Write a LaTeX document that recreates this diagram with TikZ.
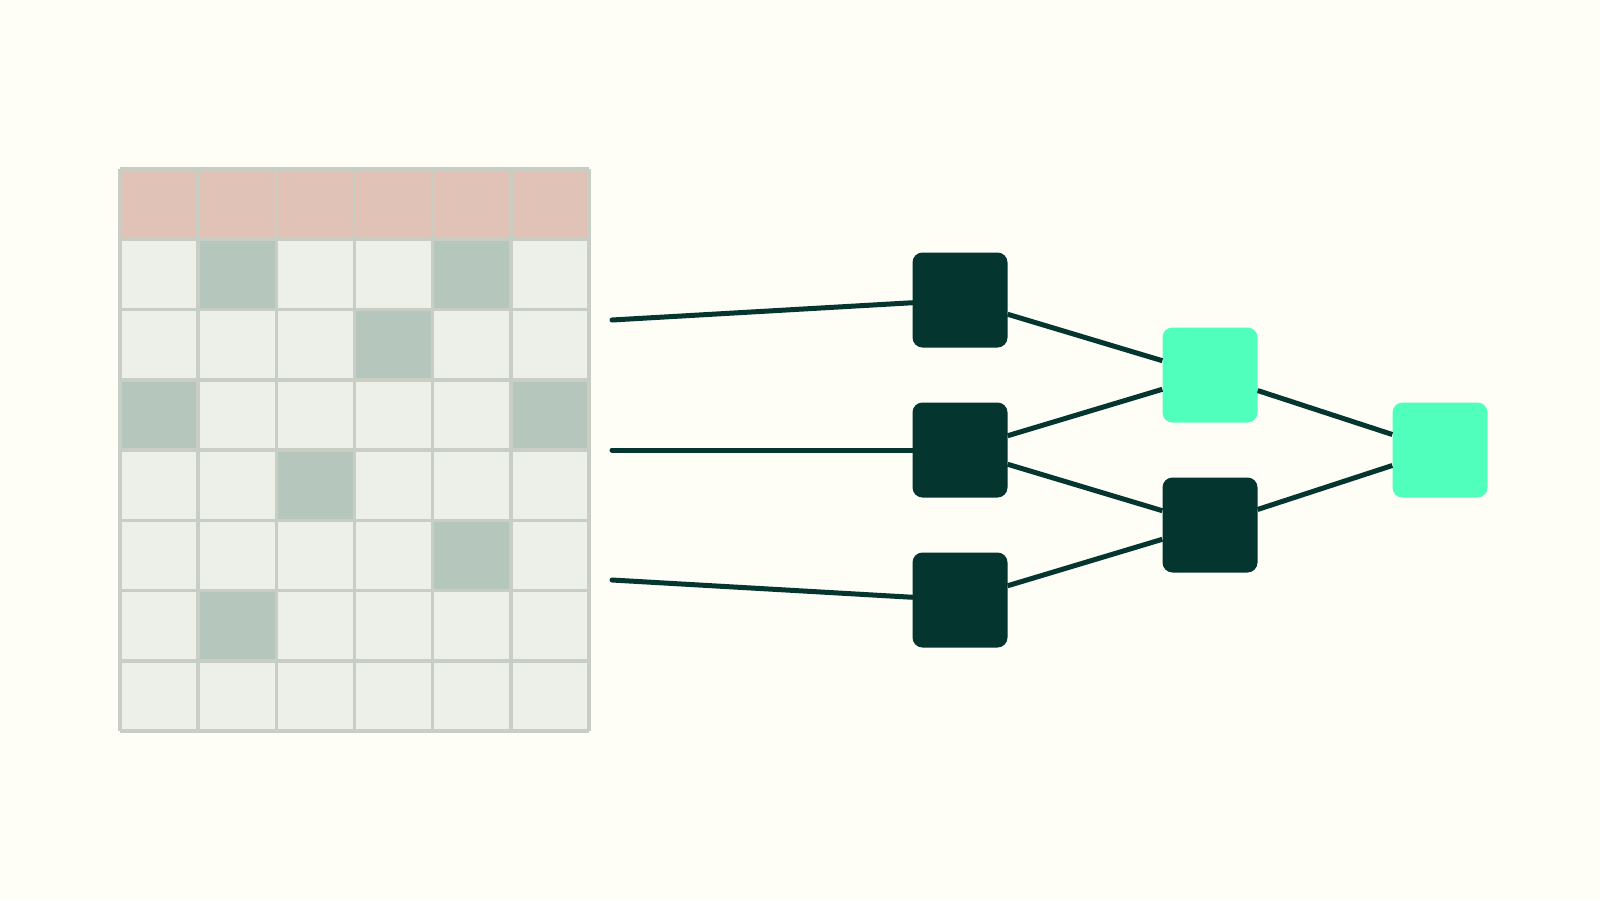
\documentclass[tikz,border=0pt]{standalone}
\definecolor{bg}{HTML}{FEFDF6}
\definecolor{hdr}{HTML}{E1C2B6}
\definecolor{cellL}{HTML}{EDF0E8}
\definecolor{cellD}{HTML}{B5C6BC}
\definecolor{gridc}{HTML}{C8CEC4}
\definecolor{ink}{HTML}{04352F}
\definecolor{mint}{HTML}{50FFBB}
\begin{document}
\begin{tikzpicture}[x=1pt,y=-1pt,
  gridline/.style={draw=gridc,line width=3.5pt},
  netbox/.style={rectangle,rounded corners=10pt,minimum width=95pt,minimum height=95pt,inner sep=0pt,draw=none},
  dk/.style={netbox,fill=ink},
  lt/.style={netbox,fill=mint},
  edge/.style={draw=ink,line width=5pt},
  inedge/.style={edge,line cap=round}]
\fill[bg] (0,0) rectangle (1600,900);
\useasboundingbox (0,0) rectangle (1600,900);
% table
\def\tx{120}\def\ty{169}\def\cw{78.17}\def\rh{70.25}
\fill[cellL] (120,169) rectangle (589,731);
\fill[hdr] (120,169) rectangle (589,239.25);
\foreach \r/\c in {1/2,1/5,2/4,3/1,3/6,4/3,5/5,6/2}{
  \fill[cellD] ({\tx+(\c-1)*\cw},{\ty+\r*\rh}) rectangle ({\tx+\c*\cw},{\ty+(\r+1)*\rh});
}
\foreach \i in {0,...,6}{
  \draw[gridline] ({\tx+\i*\cw},169) -- ({\tx+\i*\cw},731);
}
\foreach \j in {0,...,8}{
  \draw[gridline] (120,{\ty+\j*\rh}) -- (589,{\ty+\j*\rh});
}
% network
\node[dk] (i1) at (960,300) {};
\node[dk] (i2) at (960,450) {};
\node[dk] (i3) at (960,600) {};
\node[lt] (h1) at (1210,375) {};
\node[dk] (h2) at (1210,525) {};
\node[lt] (o) at (1440,450) {};
\coordinate (s1) at (612,320);
\coordinate (s2) at (612,450);
\coordinate (s3) at (612,580);
\draw[inedge] (s1) -- (i1);
\draw[inedge] (s2) -- (i2);
\draw[inedge] (s3) -- (i3);
\draw[edge] (i1) -- (h1);
\draw[edge] (i2) -- (h1);
\draw[edge] (i2) -- (h2);
\draw[edge] (i3) -- (h2);
\draw[edge] (h1) -- (o);
\draw[edge] (h2) -- (o);
\end{tikzpicture}
\end{document}
